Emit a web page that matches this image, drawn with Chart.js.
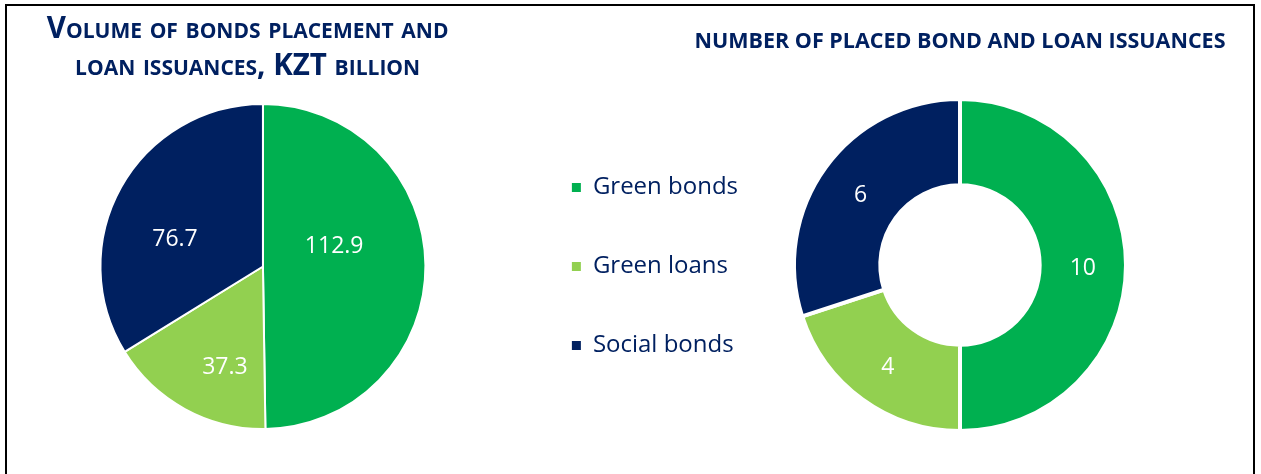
<!DOCTYPE html>
<html>
<head>
<meta charset="utf-8">
<script src="https://cdn.jsdelivr.net/npm/chart.js@4.4.1/dist/chart.umd.min.js"></script>
<style>
  html, body { margin: 0; padding: 0; background: #fff; overflow: hidden; }
  #page { position: relative; width: 1261px; height: 474px; }
  canvas { position: absolute; top: 0; }
  #volume-chart { left: 0; }
  #count-chart { left: 680px; }
  #frame { position: absolute; left: 5px; top: 4px; width: 1250px; height: 600px; box-sizing: border-box; border: 2px solid #000; pointer-events: none; }
</style>
</head>
<body>
<div id="page">
  <canvas id="volume-chart" width="748" height="474"></canvas>
  <canvas id="count-chart" width="560" height="474"></canvas>
  <div id="frame"></div>
</div>
<script>
const categories = ['Green bonds', 'Green loans', 'Social bonds'];
const volumeKztBn = [112.9, 37.3, 76.7];
const issuanceCount = [10, 4, 6];
const sliceColors = ['#00B050', '#92D050', '#002060'];
const volumeTitle = ['Volume of bonds placement and', 'loan issuances, KZT billion'];
const countTitle = 'NUMBER OF PLACED BOND AND LOAN ISSUANCES';
const navy = '#002060';

Chart.defaults.font.family = "'Open Sans', sans-serif";
Chart.defaults.animation = false;

const doughnutLegend = Chart.registry.getController('doughnut').overrides.plugins.legend.labels.generateLabels;

// white value labels inside each slice
const sliceLabels = {
  id: 'sliceLabels',
  afterDatasetsDraw(chart, args, opts) {
    const ctx = chart.ctx;
    const values = chart.data.datasets[0].data;
    ctx.save();
    ctx.font = opts.size + "px 'Open Sans', sans-serif";
    ctx.fillStyle = '#fff';
    ctx.textAlign = 'center';
    ctx.textBaseline = 'middle';
    chart.getDatasetMeta(0).data.forEach((arc, i) => {
      const p = arc.tooltipPosition();
      const shift = (opts.shift && opts.shift[i]) || [0, opts.dy || 0];
      ctx.fillText(opts.format(values[i]), p.x + shift[0], p.y + shift[1]);
    });
    ctx.restore();
  }
};

new Chart(document.getElementById('volume-chart'), {
  type: 'pie',
  data: {
    labels: categories,
    datasets: [{
      data: volumeKztBn,
      backgroundColor: sliceColors,
      borderColor: '#fff',
      borderWidth: 2,
      hoverOffset: 0
    }]
  },
  options: {
    responsive: false,
    events: [],
    layout: { padding: { left: 9, right: 0, top: 0, bottom: 44 } },
    plugins: {
      title: {
        display: true,
        fullSize: false,
        text: volumeTitle.map(t => t + '    '),
        color: navy,
        font: { family: "'Open Sans'", size: 29.5, weight: 'small-caps bold', lineHeight: '37px' },
        padding: { top: 11.5, bottom: 17.5 }
      },
      legend: {
        position: 'right',
        fullSize: false,
        labels: {
          boxWidth: 9,
          boxHeight: 9,
          padding: 55,
          color: navy,
          font: { size: 24 },
          generateLabels: (chart) => doughnutLegend(chart).map(l => ({ ...l, lineWidth: 0 }))
        }
      },
      tooltip: { enabled: false },
      sliceLabels: { size: 23, format: v => v.toFixed(1), shift: [[-10, -19], [1, 30], [-17, 13]] }
    }
  },
  plugins: [sliceLabels]
});

new Chart(document.getElementById('count-chart'), {
  type: 'doughnut',
  data: {
    labels: categories,
    datasets: [{
      data: issuanceCount,
      backgroundColor: sliceColors,
      borderColor: '#fff',
      borderWidth: 4,
      hoverOffset: 0
    }]
  },
  options: {
    responsive: false,
    events: [],
    cutout: '48%',
    layout: { padding: { bottom: 41 } },
    plugins: {
      title: {
        display: true,
        text: countTitle,
        color: navy,
        font: { size: 21.5, weight: 'bold', lineHeight: 1.2 },
        padding: { top: 29.1, bottom: 42.1 }
      },
      legend: { display: false },
      tooltip: { enabled: false },
      sliceLabels: { size: 23, dy: 3, format: v => String(v) }
    }
  },
  plugins: [sliceLabels]
});
</script>
</body>
</html>
